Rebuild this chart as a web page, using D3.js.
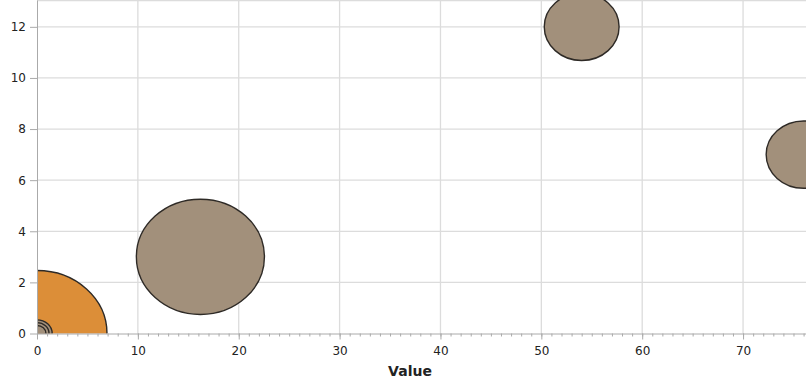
<!DOCTYPE html>
<html>
<head>
<meta charset="utf-8">
<style>
body { margin: 0; background: #fff; }
text { font-family: "DejaVu Sans", sans-serif; fill: #222; }
.grid line { stroke: #dcdcdc; stroke-width: 1.3; }
.axis path, .axis line { stroke: #aaa; }
</style>
</head>
<body>
<svg width="806" height="383"></svg>
<script src="https://d3js.org/d3.v7.min.js"></script>
<script>

// bubble data
var xs    = [0,    16.2, 54,  76,  0,    0,    0];
var ys    = [0,    3,    12,  7,   0,    0,    0];
var sizes = [49,   41,   14,  14,  2.3,  1.45, 0.8];
var kinds = ["hi", "lo", "lo", "lo", "lo", "lo", "lo"];

var xTicks = [0, 10, 20, 30, 40, 50, 60, 70];
var yTicks = [0, 2, 4, 6, 8, 10, 12];

var svg = d3.select("svg"),
    margin = {top: 0, right: 0, left: 37, bottom: 49.5},
    width = +svg.attr("width") - margin.left - margin.right,
    height = +svg.attr("height") - margin.top - margin.bottom;

var x = d3.scaleLinear().domain([0, 76.24]).range([0, width]),
    y = d3.scaleLinear().domain([0, 13.05]).range([height, 0]),
    r = d3.scaleSqrt().domain([0, 49]).range([0, 70]);

var color = {hi: "#dc8e38", lo: "#a2907b"};

var g = svg.append("g")
    .attr("transform", "translate(" + margin.left + "," + margin.top + ")");

g.append("clipPath").attr("id", "plot")
  .append("rect").attr("width", width).attr("height", height);

// grid
g.append("g").attr("class", "grid")
  .selectAll("line.v").data(xTicks.slice(1)).enter().append("line")
    .attr("x1", function(d) { return x(d); }).attr("x2", function(d) { return x(d); })
    .attr("y1", 0).attr("y2", height);
g.select(".grid")
  .selectAll("line.h").data(yTicks.slice(1).concat([13.03])).enter().append("line")
    .attr("x1", 0).attr("x2", width)
    .attr("y1", function(d) { return y(d); }).attr("y2", function(d) { return y(d); });

// bubbles
var data = xs.map(function(v, i) {
  return {x: v, y: ys[i], size: sizes[i], kind: kinds[i]};
});

g.append("g").attr("clip-path", "url(#plot)")
  .selectAll("ellipse").data(data).enter().append("ellipse")
    .attr("cx", function(d) { return x(d.x); })
    .attr("cy", function(d) { return y(d.y); })
    .attr("rx", function(d) { return r(d.size); })
    .attr("ry", function(d) { return r(d.size) * 0.9; })
    .attr("fill", function(d) { return color[d.kind]; })
    .attr("stroke", "#2e2a26")
    .attr("stroke-width", 1.4);

// axes
g.append("g")
    .attr("class", "axis")
    .attr("transform", "translate(0," + height + ")")
    .call(d3.axisBottom(x).tickValues(d3.range(0, 77, 1)).tickSize(3).tickFormat(""))
    .call(function(a) { a.select(".domain").remove(); });

g.append("g")
    .attr("class", "axis axis--x")
    .attr("transform", "translate(0," + height + ")")
    .call(d3.axisBottom(x).tickValues(xTicks).tickSize(6).tickPadding(7).tickSizeOuter(0))
    .selectAll("text").style("font-size", "12px");

g.append("g")
    .attr("class", "axis axis--y")
    .call(d3.axisLeft(y).tickValues(yTicks).tickSize(7).tickPadding(4).tickSizeOuter(0))
    .selectAll("text").style("font-size", "12px");

g.append("text")
    .attr("x", 410 - margin.left)
    .attr("y", height + 42)
    .attr("text-anchor", "middle")
    .style("font-size", "14px")
    .style("font-weight", "bold")
    .text("Value");

</script>
</body>
</html>
